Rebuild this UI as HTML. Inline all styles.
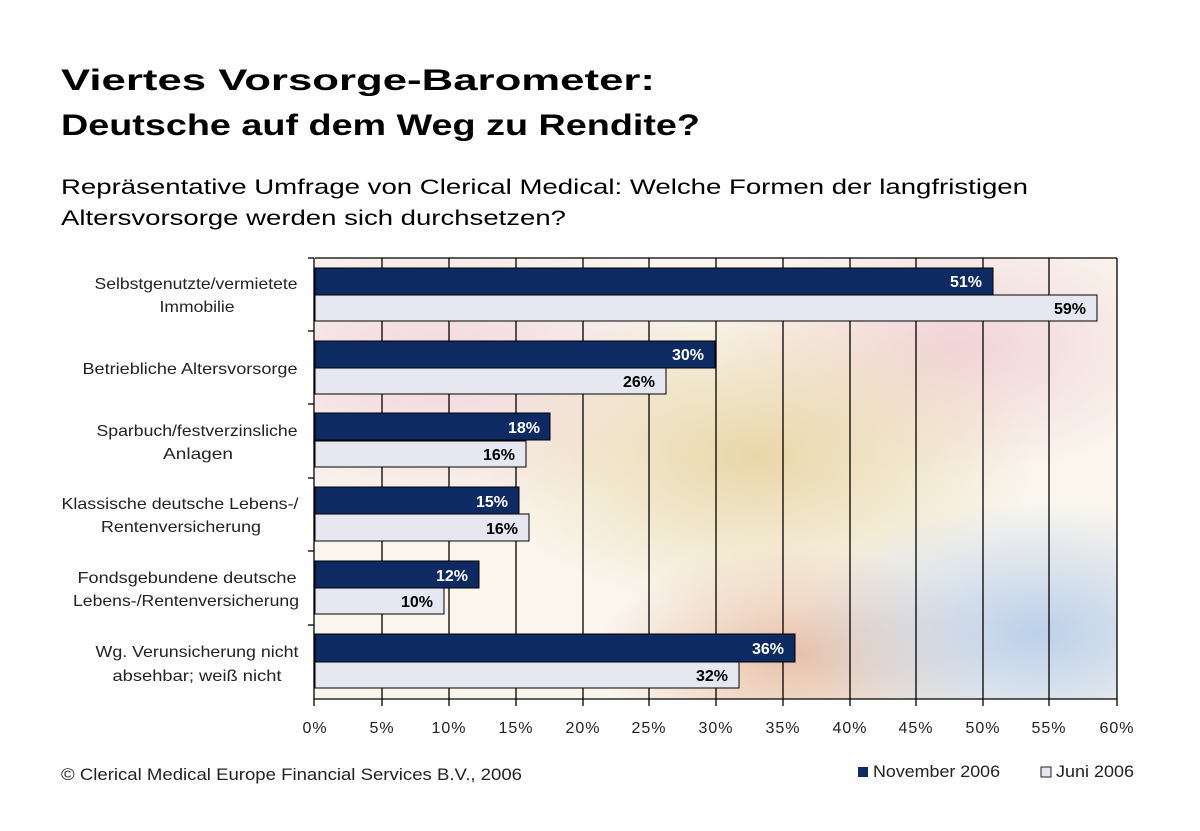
<!DOCTYPE html>
<html><head><meta charset="utf-8"><style>
body{margin:0;background:#fff;}
svg{display:block;font-family:"Liberation Sans",sans-serif;}
</style></head><body>
<svg width="1200" height="831" viewBox="0 0 1200 831" xmlns="http://www.w3.org/2000/svg">
<defs>
<radialGradient id="g1" cx="0.55" cy="0.45" r="0.35"><stop offset="0" stop-color="#e8d7a8"/><stop offset="1" stop-color="#e8d7a8" stop-opacity="0"/></radialGradient>
<radialGradient id="g2" cx="0.15" cy="0.25" r="0.35"><stop offset="0" stop-color="#f2d6dc"/><stop offset="1" stop-color="#f2d6dc" stop-opacity="0"/></radialGradient>
<radialGradient id="g3" cx="0.9" cy="0.85" r="0.3"><stop offset="0" stop-color="#bcd0ea"/><stop offset="1" stop-color="#bcd0ea" stop-opacity="0"/></radialGradient>
<radialGradient id="g4" cx="0.8" cy="0.2" r="0.3"><stop offset="0" stop-color="#f1d3d6"/><stop offset="1" stop-color="#f1d3d6" stop-opacity="0"/></radialGradient>
<radialGradient id="g5" cx="0.6" cy="0.9" r="0.25"><stop offset="0" stop-color="#e8c0a8"/><stop offset="1" stop-color="#e8c0a8" stop-opacity="0"/></radialGradient>
</defs>
<g font-weight="bold" font-size="30" fill="#000">
<text x="61" y="90" textLength="594" lengthAdjust="spacingAndGlyphs">Viertes Vorsorge-Barometer:</text>
<text x="61" y="135" textLength="639" lengthAdjust="spacingAndGlyphs">Deutsche auf dem Weg zu Rendite?</text>
</g>
<g font-size="21" fill="#000">
<text x="61" y="194" textLength="967" lengthAdjust="spacingAndGlyphs">Repräsentative Umfrage von Clerical Medical: Welche Formen der langfristigen</text>
<text x="61" y="225" textLength="505" lengthAdjust="spacingAndGlyphs">Altersvorsorge werden sich durchsetzen?</text>
</g>
<rect x="315" y="258" width="802" height="441" fill="#faf6ee"/>
<rect x="315" y="258" width="802" height="441" fill="url(#g2)"/>
<rect x="315" y="258" width="802" height="441" fill="url(#g4)"/>
<rect x="315" y="258" width="802" height="441" fill="url(#g1)"/>
<rect x="315" y="258" width="802" height="441" fill="url(#g5)"/>
<rect x="315" y="258" width="802" height="441" fill="url(#g3)"/>
<g stroke="#000" stroke-width="1.3">
<line x1="382" y1="258" x2="382" y2="706"/><line x1="449" y1="258" x2="449" y2="706"/>
<line x1="516" y1="258" x2="516" y2="706"/><line x1="583" y1="258" x2="583" y2="706"/>
<line x1="649" y1="258" x2="649" y2="706"/><line x1="716" y1="258" x2="716" y2="706"/>
<line x1="783" y1="258" x2="783" y2="706"/><line x1="850" y1="258" x2="850" y2="706"/>
<line x1="916" y1="258" x2="916" y2="706"/><line x1="983" y1="258" x2="983" y2="706"/>
<line x1="1049" y1="258" x2="1049" y2="706"/><line x1="1117" y1="258" x2="1117" y2="706"/>
<line x1="315" y1="258" x2="1117" y2="258"/>
<line x1="314" y1="258" x2="314" y2="706"/>
<line x1="314" y1="699" x2="1117" y2="699"/>
<line x1="308" y1="331" x2="314" y2="331"/><line x1="308" y1="404" x2="314" y2="404"/>
<line x1="308" y1="478" x2="314" y2="478"/><line x1="308" y1="551" x2="314" y2="551"/>
<line x1="308" y1="625" x2="314" y2="625"/><line x1="308" y1="258" x2="314" y2="258"/>
</g>
<g stroke="#000" stroke-width="1">
<rect x="315" y="268" width="678" height="27" fill="#0e2a63"/>
<rect x="315" y="295" width="782" height="26" fill="#e6e7f0"/>
<rect x="315" y="341" width="400" height="27" fill="#0e2a63"/>
<rect x="315" y="368" width="351" height="26" fill="#e6e7f0"/>
<rect x="315" y="413" width="235" height="27" fill="#0e2a63"/>
<rect x="315" y="441" width="211" height="26" fill="#e6e7f0"/>
<rect x="315" y="487" width="204" height="27" fill="#0e2a63"/>
<rect x="315" y="514" width="214" height="27" fill="#e6e7f0"/>
<rect x="315" y="561" width="164" height="27" fill="#0e2a63"/>
<rect x="315" y="588" width="129" height="26" fill="#e6e7f0"/>
<rect x="315" y="634" width="480" height="28" fill="#0e2a63"/>
<rect x="315" y="662" width="424" height="26" fill="#e6e7f0"/>
</g>
<g font-size="16" font-weight="bold" text-anchor="end">
<g fill="#fff">
<text x="982" y="287">51%</text><text x="704" y="360">30%</text><text x="540" y="433">18%</text>
<text x="508" y="507">15%</text><text x="468" y="581">12%</text><text x="784" y="654">36%</text>
</g>
<g fill="#000">
<text x="1086" y="314">59%</text><text x="655" y="387">26%</text><text x="515" y="460">16%</text>
<text x="518" y="534">16%</text><text x="433" y="607">10%</text><text x="728" y="681">32%</text>
</g>
</g>
<g font-size="16" fill="#222" text-anchor="middle">
<text x="196" y="289" textLength="203" lengthAdjust="spacingAndGlyphs">Selbstgenutzte/vermietete</text><text x="197" y="312" textLength="75" lengthAdjust="spacingAndGlyphs">Immobilie</text>
<text x="190" y="374" textLength="215" lengthAdjust="spacingAndGlyphs">Betriebliche Altersvorsorge</text>
<text x="197" y="436" textLength="201" lengthAdjust="spacingAndGlyphs">Sparbuch/festverzinsliche</text><text x="198" y="459" textLength="70" lengthAdjust="spacingAndGlyphs">Anlagen</text>
<text x="180" y="509" textLength="237" lengthAdjust="spacingAndGlyphs">Klassische deutsche Lebens-/</text><text x="181" y="532" textLength="160" lengthAdjust="spacingAndGlyphs">Rentenversicherung</text>
<text x="187" y="583" textLength="219" lengthAdjust="spacingAndGlyphs">Fondsgebundene deutsche</text><text x="186" y="606" textLength="226" lengthAdjust="spacingAndGlyphs">Lebens-/Rentenversicherung</text>
<text x="197" y="657" textLength="203" lengthAdjust="spacingAndGlyphs">Wg. Verunsicherung nicht</text><text x="197" y="681" textLength="169" lengthAdjust="spacingAndGlyphs">absehbar; weiß nicht</text>
</g>
<g font-size="16" fill="#222" text-anchor="middle" letter-spacing="1">
<text x="315" y="733">0%</text><text x="382" y="733">5%</text><text x="449" y="733">10%</text>
<text x="516" y="733">15%</text><text x="583" y="733">20%</text><text x="649" y="733">25%</text>
<text x="716" y="733">30%</text><text x="783" y="733">35%</text><text x="850" y="733">40%</text>
<text x="916" y="733">45%</text><text x="983" y="733">50%</text><text x="1049" y="733">55%</text>
<text x="1117" y="733">60%</text>
</g>
<text x="61" y="780" font-size="17" fill="#222" textLength="461" lengthAdjust="spacingAndGlyphs">© Clerical Medical Europe Financial Services B.V., 2006</text>
<rect x="858" y="767" width="10" height="10" fill="#0e2a63"/>
<text x="873" y="777" font-size="17" fill="#222" textLength="127" lengthAdjust="spacingAndGlyphs">November 2006</text>
<rect x="1041" y="767" width="10" height="10" fill="#e6e7f0" stroke="#222"/>
<text x="1056" y="777" font-size="17" fill="#222" textLength="78" lengthAdjust="spacingAndGlyphs">Juni 2006</text>
</svg>
</body></html>
